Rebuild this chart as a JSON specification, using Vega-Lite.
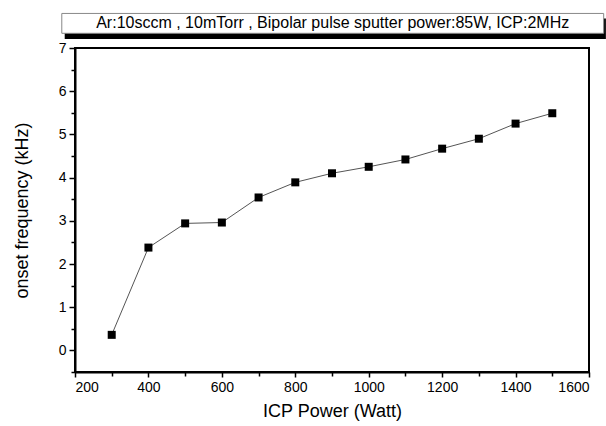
{
  "$schema": "https://vega.github.io/schema/vega-lite/v6.json",
  "width": 514,
  "height": 324,
  "autosize": {"type": "none"},
  "padding": {"left": 75, "top": 48, "right": 17, "bottom": 54},
  "background": "white",
  "config": {
    "font": "Liberation Sans",
    "view": {"stroke": "black", "strokeWidth": 2},
    "axis": {
      "domainColor": "black",
      "domainWidth": 2,
      "tickColor": "black",
      "tickWidth": 1.5,
      "labelColor": "black",
      "labelFontSize": 14,
      "titleColor": "black",
      "titleFontSize": 18,
      "titleFontWeight": "normal",
      "grid": false,
      "format": "d"
    }
  },
  "layer": [
    {
      "data": {"values": [{"label": "Ar:10sccm , 10mTorr ,  Bipolar pulse sputter power:85W, ICP:2MHz"}]},
      "layer": [
        {
          "mark": {"type": "rect", "fill": "black", "strokeWidth": 0},
          "encoding": {
            "x": {"datum": 172, "type": "quantitative", "scale": {"domain": [200, 1600], "nice": false, "zero": false}, "axis": null},
            "x2": {"datum": 1646},
            "y": {"datum": 7.68, "type": "quantitative", "scale": {"domain": [-0.5, 7], "nice": false, "zero": false}, "axis": null},
            "y2": {"datum": 7.21}
          }
        },
        {
          "mark": {"type": "rect", "fill": "white", "stroke": "#888888", "strokeWidth": 1},
          "encoding": {
            "x": {"datum": 164, "type": "quantitative", "scale": {"domain": [200, 1600], "nice": false, "zero": false}, "axis": null},
            "x2": {"datum": 1640},
            "y": {"datum": 7.8, "type": "quantitative", "scale": {"domain": [-0.5, 7], "nice": false, "zero": false}, "axis": null},
            "y2": {"datum": 7.34}
          }
        },
        {
          "mark": {"type": "text", "fontSize": 16, "fontWeight": "normal", "fill": "black", "align": "center", "baseline": "middle"},
          "encoding": {
            "x": {"datum": 902, "type": "quantitative", "scale": {"domain": [200, 1600], "nice": false, "zero": false}, "axis": null},
            "y": {"datum": 7.57, "type": "quantitative", "scale": {"domain": [-0.5, 7], "nice": false, "zero": false}, "axis": null},
            "text": {"field": "label"}
          }
        }
      ]
    },
    {
      "data": {
        "values": [
          {"power": 300, "freq": 0.36},
          {"power": 400, "freq": 2.38},
          {"power": 500, "freq": 2.94},
          {"power": 600, "freq": 2.96},
          {"power": 700, "freq": 3.54},
          {"power": 800, "freq": 3.89},
          {"power": 900, "freq": 4.1},
          {"power": 1000, "freq": 4.25},
          {"power": 1100, "freq": 4.42},
          {"power": 1200, "freq": 4.67},
          {"power": 1300, "freq": 4.9},
          {"power": 1400, "freq": 5.25},
          {"power": 1500, "freq": 5.49}
        ]
      },
      "layer": [
        {
          "mark": {"type": "line", "stroke": "#555555", "strokeWidth": 1},
          "encoding": {
            "x": {
              "field": "power", "type": "quantitative",
              "scale": {"domain": [200, 1600], "nice": false, "zero": false},
              "axis": {"orient": "bottom", "values": [200, 400, 600, 800, 1000, 1200, 1400, 1600], "format": "d", "tickSize": 5, "labelPadding": 3, "title": "ICP Power (Watt)", "titlePadding": 8}
            },
            "y": {
              "field": "freq", "type": "quantitative",
              "scale": {"domain": [-0.5, 7], "nice": false, "zero": false},
              "axis": {"orient": "left", "values": [0, 1, 2, 3, 4, 5, 6, 7], "format": "d", "tickSize": 6, "labelPadding": 3, "title": "onset frequency (kHz)", "titlePadding": 27}
            }
          }
        },
        {
          "mark": {"type": "point", "shape": "square", "filled": true, "fill": "black", "strokeWidth": 0, "size": 64, "opacity": 1},
          "encoding": {
            "x": {
              "field": "power", "type": "quantitative",
              "scale": {"domain": [200, 1600], "nice": false, "zero": false},
              "axis": {"orient": "bottom", "values": [300, 500, 700, 900, 1100, 1300, 1500], "tickSize": 4, "labels": false, "domain": false, "title": null}
            },
            "y": {
              "field": "freq", "type": "quantitative",
              "scale": {"domain": [-0.5, 7], "nice": false, "zero": false},
              "axis": {"orient": "left", "values": [-0.5, 0.5, 1.5, 2.5, 3.5, 4.5, 5.5, 6.5], "tickSize": 4, "labels": false, "domain": false, "title": null}
            }
          }
        }
      ],
      "resolve": {"axis": {"x": "independent", "y": "independent"}}
    }
  ],
  "resolve": {"axis": {"x": "independent", "y": "independent"}}
}
